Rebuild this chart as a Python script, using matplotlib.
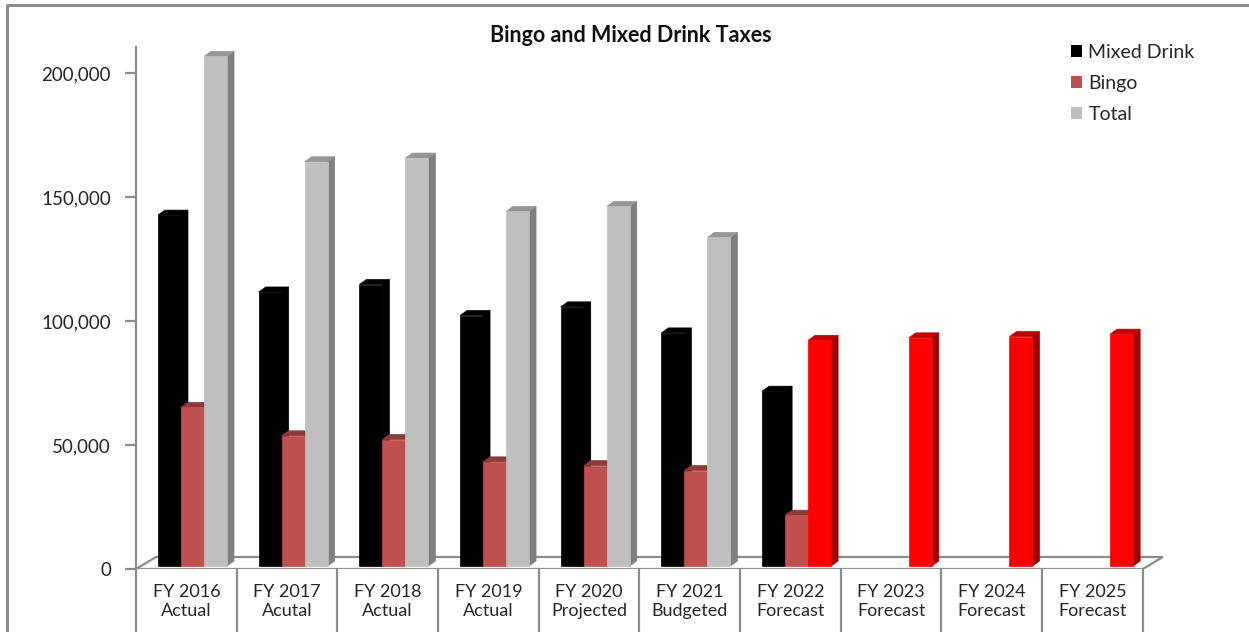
import numpy as np
import matplotlib.pyplot as plt
from matplotlib.patches import Polygon
from matplotlib.lines import Line2D

plt.rcParams['font.family'] = ['Lato', 'DejaVu Sans']

categories = ["FY 2016\nActual", "FY 2017\nAcutal", "FY 2018\nActual", "FY 2019\nActual",
              "FY 2020\nProjected", "FY 2021\nBudgeted", "FY 2022\nForecast",
              "FY 2023\nForecast", "FY 2024\nForecast", "FY 2025\nForecast"]
mixed_drink = [141500, 110500, 113500, 101000, 104500, 94000, 70500, np.nan, np.nan, np.nan]
bingo = [64000, 52500, 51000, 42000, 40500, 38500, 20500, np.nan, np.nan, np.nan]
total = [205500, 163000, 164500, 143000, 145000, 132500, 91000, 92000, 92500, 93500]
first_forecast = 6  # totals from here on are shown in red

# (front, top, side) face colours
faces = {
    "Mixed Drink": ("#000000", "#000000", "#000000"),
    "Bingo": ("#C0504D", "#8E3A38", "#8E3A38"),
    "Total": ("#BFBFBF", "#969696", "#7F7F7F"),
    "Forecast": ("#FF0000", "#C00000", "#A00000"),
}
text_col = "#262626"

W, H = 1249, 632
fig = plt.figure(figsize=(W / 100, H / 100), dpi=100)
ax = fig.add_axes([136 / W, 63 / H, 1032 / W, 522 / H])
ax.set_xlim(0, 10.25)
ax.set_ylim(0, 210500)

# pixel sizes in data units
px = 10.25 / 1032
py = 210500 / 522
bar_w = 23 * px
group_off = 22 * px
side_dx = 7 * px
top_dy = 5 * py
base = 3 * py
grey = "#8C8C8C"

# floor
floor_dx, floor_dy = 20 * px, 12 * py
ax.add_patch(Polygon([(0, 0), (10, 0), (10 + floor_dx, floor_dy), (floor_dx, floor_dy)],
                     closed=True, facecolor="white", edgecolor=grey, lw=1.6, zorder=1))


def bar3d(x0, h, colours, z):
    front, top, side = colours
    y1 = base + h
    ax.add_patch(Polygon([(x0 + bar_w, base), (x0 + bar_w + side_dx, base + top_dy),
                          (x0 + bar_w + side_dx, y1 + top_dy), (x0 + bar_w, y1)],
                         closed=True, facecolor=side, edgecolor=side, lw=0.5, zorder=z))
    ax.add_patch(Polygon([(x0, y1), (x0 + bar_w, y1), (x0 + bar_w + side_dx, y1 + top_dy),
                          (x0 + side_dx, y1 + top_dy)], closed=True, facecolor=top,
                         edgecolor=top, lw=0.5, zorder=z))
    ax.bar(x0, h, width=bar_w, bottom=base, align="edge", color=front,
           edgecolor=front, lw=0.5, zorder=z)


for i in range(len(categories)):
    x0 = i + group_off
    series = [("Mixed Drink", mixed_drink[i]), ("Bingo", bingo[i]),
              ("Total" if i < first_forecast else "Forecast", total[i])]
    for k, (name, v) in enumerate(series):
        if np.isnan(v):
            continue
        bar3d(x0 + k * bar_w, v, faces[name], 3 + k)

# legend
for name in ["Mixed Drink", "Bingo", "Total"]:
    ax.bar(np.nan, np.nan, color=faces[name][0], label=name)
leg = ax.legend(loc="upper left", bbox_to_anchor=(1071 / W, 1 - 44 / H),
                bbox_transform=fig.transFigure, frameon=False, fontsize=14,
                handlelength=0.55, handleheight=0.55, handletextpad=0.35,
                labelspacing=0.72, borderpad=0, borderaxespad=0)
for t in leg.get_texts():
    t.set_color(text_col)

# axes styling
for s in ["top", "right", "bottom"]:
    ax.spines[s].set_visible(False)
ax.spines["left"].set_color(grey)
ax.spines["left"].set_linewidth(1.6)
ax.set_yticks([0, 50000, 100000, 150000, 200000])
ax.set_yticklabels([f"{v:,}" for v in [0, 50000, 100000, 150000, 200000]], fontsize=13.5,
                   color=text_col)
ax.tick_params(axis="y", length=8, width=1.6, color=grey, pad=10)
ax.set_xticks(np.arange(len(categories)) + 0.5)
ax.set_xticklabels(categories, fontsize=13, linespacing=1.2, color=text_col)
ax.tick_params(axis="x", length=0, pad=11)

# category box below the floor
ax.vlines(np.arange(len(categories) + 1), -0.13, 0, transform=ax.get_xaxis_transform(),
          colors=grey, lw=1.6, clip_on=False)

fig.text(631 / W, 1 - 35 / H, "Bingo and Mixed Drink Taxes", ha="center", va="center",
         fontsize=15.5, fontweight="bold", color="#111111")

# chart border (top and left edges)
fig.add_artist(Line2D([7 / W, 7 / W, 1], [0, 1 - 5 / H, 1 - 5 / H], transform=fig.transFigure,
                      color="#8C8C8C", lw=2.2))

fig.savefig("out.png", dpi=100)
